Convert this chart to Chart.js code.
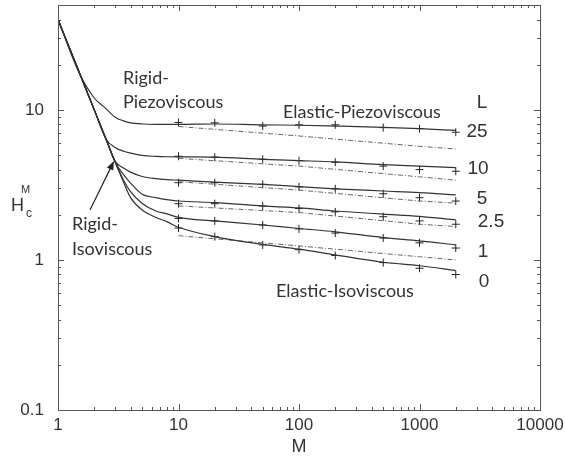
<!DOCTYPE html>
<html>
<head>
<meta charset="utf-8">
<script src="https://cdn.jsdelivr.net/npm/chart.js@4.4.1/dist/chart.umd.min.js"></script>
<style>
  html, body { margin: 0; padding: 0; background: #fff; }
  #wrap { width: 565px; height: 458px; }
</style>
</head>
<body>
<div id="wrap"><canvas id="chart" width="565" height="458"></canvas></div>
<script>
// Full solution curves, H_c^M against M, one per load parameter L
var curveM = [1, 1.5, 2, 2.5, 3, 3.5, 4, 5, 6.5, 8, 10, 20, 50, 100, 200, 500, 1000, 2000];
var curveL25 = [40, 17.6, 12, 10.2, 8.9, 8.45, 8.2, 8.05, 8.0, 8.0, 8.0, 8.05, 7.95, 7.9, 7.8, 7.65, 7.5, 7.3];
var curveL10 = [40, 17.8, 10, 6.4, 5.6, 5.3, 5.15, 4.97, 4.9, 4.87, 4.86, 4.84, 4.68, 4.59, 4.5, 4.32, 4.22, 4.12];
var curveL5 = [40, 17.8, 10, 6.4, 4.5, 4.1, 3.85, 3.6, 3.48, 3.43, 3.4, 3.3, 3.19, 3.08, 2.98, 2.88, 2.81, 2.71];
var curveL2_5 = [40, 17.8, 10, 6.4, 4.44, 3.7, 3.25, 2.74, 2.6, 2.52, 2.47, 2.41, 2.29, 2.22, 2.12, 2.02, 1.95, 1.85];
var curveL1 = [40, 17.8, 10, 6.4, 4.44, 3.4, 2.85, 2.38, 2.12, 2.03, 1.92, 1.82, 1.71, 1.62, 1.54, 1.41, 1.34, 1.26];
var curveL0 = [40, 17.8, 10, 6.4, 4.44, 3.3, 2.6, 2.15, 1.92, 1.8, 1.65, 1.43, 1.27, 1.18, 1.08, 0.965, 0.915, 0.85];

// computed points (+)
var markM = [10, 20, 50, 100, 200, 500, 1000, 2000];
var markL25 = [8.25, 8.2, 7.8, 7.95, 7.95, 7.62, 7.5, 7.1];
var markL10 = [4.91, 4.84, 4.69, 4.59, 4.48, 4.22, 4.0, 3.9];
var markL5 = [3.27, 3.27, 3.19, 3.07, 2.98, 2.76, 2.6, 2.47];
var markL2_5 = [2.37, 2.37, 2.29, 2.2, 2.09, 1.94, 1.82, 1.73];
var markL1 = [1.89, 1.82, 1.71, 1.61, 1.51, 1.4, 1.3, 1.2];
var markL0 = [1.63, 1.43, 1.26, 1.17, 1.07, 0.96, 0.88, 0.8];

// dash-dot approximations
var dashM = [10, 100, 1000, 2000];
var dashL25 = [7.75, 6.7, 5.72, 5.49];
var dashL10 = [4.75, 4.22, 3.58, 3.4];
var dashL5 = [3.32, 2.92, 2.47, 2.39];
var dashL2_5 = [2.29, 2.07, 1.73, 1.67];
var dashL0 = [1.45, 1.24, 1.05, 1.0];

var labelsL = ['25', '10', '5', '2.5', '1', '0'];
var xTicks = [1, 10, 100, 1000, 10000];
var yTicks = [0.1, 1, 10];

function pts(xs, ys) {
	return xs.map(function(x, i) { return { x: x, y: ys[i] }; });
}

var datasets = [];
[curveL25, curveL10, curveL5, curveL2_5, curveL1, curveL0].forEach(function(c) {
	datasets.push({
		data: pts(curveM, c),
		showLine: true,
		borderColor: '#333',
		borderWidth: 1.2,
		pointRadius: 0,
		cubicInterpolationMode: 'monotone'
	});
});
[dashL25, dashL10, dashL5, dashL2_5, dashL0].forEach(function(c) {
	datasets.push({
		data: pts(dashM, c),
		showLine: true,
		borderColor: '#666',
		borderWidth: 1,
		borderDash: [5, 2, 1, 2],
		pointRadius: 0
	});
});
[markL25, markL10, markL5, markL2_5, markL1, markL0].forEach(function(c) {
	datasets.push({
		data: pts(markM, c),
		showLine: false,
		pointStyle: 'cross',
		pointRadius: 4,
		pointBorderWidth: 1,
		pointBorderColor: '#222'
	});
});

var numFont = "'Liberation Sans', Arial, sans-serif";
var txtFont = "Lato, 'Open Sans', sans-serif";

// frame, inward ticks and the annotations
var frame = {
	id: 'frame',
	afterDraw: function(chart) {
		var ctx = chart.ctx, a = chart.chartArea;
		var xs = chart.scales.x, ys = chart.scales.y;
		ctx.save();
		ctx.strokeStyle = '#555';
		ctx.lineWidth = 1;
		ctx.strokeRect(Math.round(a.left) + 0.5, Math.round(a.top) + 0.5,
			Math.round(a.right - a.left), Math.round(a.bottom - a.top));
		ctx.beginPath();
		for (var d = 1; d < 10000; d *= 10) {
			for (var k = 1; k < 10; k++) {
				var px = Math.round(xs.getPixelForValue(k * d)) + 0.5;
				var len = k == 1 ? 6 : 3;
				ctx.moveTo(px, a.bottom); ctx.lineTo(px, a.bottom - len);
				ctx.moveTo(px, a.top); ctx.lineTo(px, a.top + len);
			}
		}
		[0.1, 1, 10].forEach(function(d) {
			for (var k = 1; k < 10; k++) {
				var v = k * d;
				if (v > 50) break;
				var py = Math.round(ys.getPixelForValue(v)) + 0.5;
				var len = k == 1 ? 6 : 3;
				ctx.moveTo(a.left, py); ctx.lineTo(a.left + len, py);
				ctx.moveTo(a.right, py); ctx.lineTo(a.right - len, py);
			}
		});
		ctx.stroke();

		// arrow to the rigid-isoviscous line
		ctx.strokeStyle = '#222';
		ctx.fillStyle = '#222';
		ctx.lineWidth = 1.2;
		var x0 = 90, y0 = 210, x1 = 114, y1 = 161;
		var ang = Math.atan2(y1 - y0, x1 - x0);
		ctx.beginPath();
		ctx.moveTo(x0, y0);
		ctx.lineTo(x1 - 6 * Math.cos(ang), y1 - 6 * Math.sin(ang));
		ctx.stroke();
		ctx.beginPath();
		ctx.moveTo(x1, y1);
		ctx.lineTo(x1 - 9 * Math.cos(ang) + 3.5 * Math.sin(ang), y1 - 9 * Math.sin(ang) - 3.5 * Math.cos(ang));
		ctx.lineTo(x1 - 9 * Math.cos(ang) - 3.5 * Math.sin(ang), y1 - 9 * Math.sin(ang) + 3.5 * Math.cos(ang));
		ctx.closePath();
		ctx.fill();

		// regime names
		ctx.fillStyle = '#333';
		ctx.textBaseline = 'alphabetic';
		ctx.textAlign = 'left';
		ctx.font = '18px ' + txtFont;
		ctx.fillText('Rigid-', 123, 84);
		ctx.fillText('Piezoviscous', 123, 108);
		ctx.fillText('Elastic-Piezoviscous', 283, 118);
		ctx.fillText('Rigid-', 72, 230);
		ctx.fillText('Isoviscous', 72, 255);
		ctx.fillText('Elastic-Isoviscous', 276, 297);

		// L values at the right
		ctx.font = '19px ' + numFont;
		ctx.textAlign = 'center';
		ctx.fillText('L', 482, 108);
		var lx = [477, 478, 482, 491, 483, 484];
		var ly = [137, 174, 204, 227, 257, 287];
		labelsL.forEach(function(t, i) { ctx.fillText(t, lx[i], ly[i]); });

		// axis titles
		ctx.font = '18px ' + numFont;
		ctx.fillText('M', 299, 452);
		ctx.textAlign = 'left';
		ctx.fillText('H', 11, 211);
		ctx.font = '11px ' + numFont;
		ctx.fillText('M', 21, 193);
		ctx.font = '12px ' + numFont;
		ctx.fillText('c', 26, 217);
		ctx.restore();
	}
};

function noPad(s) {
	s.paddingTop = 0; s.paddingBottom = 0; s.paddingLeft = 0; s.paddingRight = 0;
}

var ctx = document.getElementById('chart').getContext('2d');
var chart = new Chart(ctx, {
	type: 'scatter',
	data: { datasets: datasets },
	options: {
		responsive: false,
		animation: false,
		devicePixelRatio: 1,
		layout: { padding: { left: 0, right: 25, top: 5, bottom: 0 } },
		plugins: { legend: { display: false }, tooltip: { enabled: false } },
		scales: {
			x: {
				type: 'logarithmic',
				min: 1,
				max: 10000,
				grid: { display: false, drawTicks: false },
				border: { display: false },
				afterBuildTicks: function(s) { s.ticks = xTicks.map(function(v) { return { value: v }; }); },
				afterFit: function(s) { s.height = 48; noPad(s); },
				ticks: {
					autoSkip: false,
					maxRotation: 0,
					padding: 5,
					color: '#333',
					font: { family: numFont, size: 17 },
					callback: function(v) { return String(v); }
				}
			},
			y: {
				type: 'logarithmic',
				min: 0.1,
				max: 50,
				grid: { display: false, drawTicks: false },
				border: { display: false },
				afterBuildTicks: function(s) { s.ticks = yTicks.map(function(v) { return { value: v }; }); },
				afterFit: function(s) { s.width = 58; noPad(s); },
				ticks: {
					autoSkip: false,
					padding: 14,
					color: '#333',
					font: { family: numFont, size: 17 },
					callback: function(v) { return String(v); }
				}
			}
		}
	},
	plugins: [frame]
});
</script>
</body>
</html>
